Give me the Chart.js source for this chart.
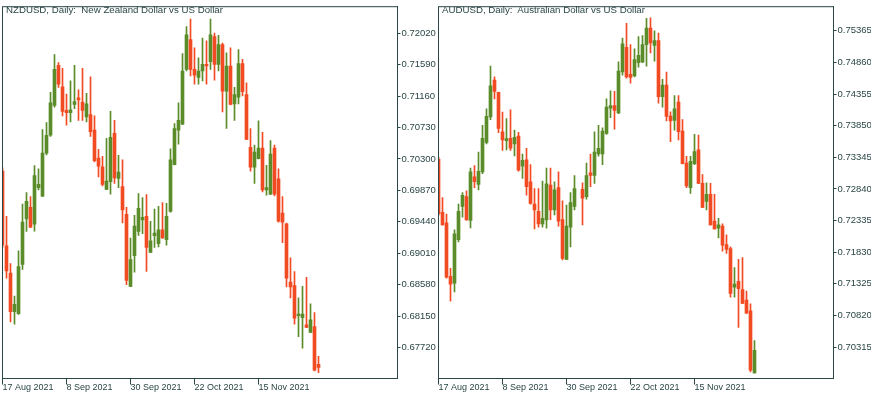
<!DOCTYPE html>
<html>
<head>
<meta charset="utf-8">
<script src="https://cdn.jsdelivr.net/npm/chart.js@4.4.0/dist/chart.umd.min.js"></script>
<style>
html, body { margin: 0; padding: 0; background: #fff; }
#wrap { position: relative; width: 871px; height: 398px; overflow: hidden; }
.panel { position: absolute; top: 0; height: 398px; overflow: hidden; }
.panel canvas { display: block; }
.title { position: absolute; left: 6px; top: 4px; font: 9.7px "Liberation Sans", Arial, sans-serif; color: #2b4646; white-space: pre; }
</style>
</head>
<body>
<div id="wrap">
  <div class="panel" style="left:0;width:436px">
    <canvas id="nz" width="436" height="398"></canvas>
    <div class="title" id="nzTitle"></div>
  </div>
  <div class="panel" style="left:436px;width:435px">
    <canvas id="au" width="435" height="398"></canvas>
    <div class="title" id="auTitle"></div>
  </div>
</div>
<script>
const nzTitle = "NZDUSD, Daily:  New Zealand Dollar vs US Dollar";
const auTitle = "AUDUSD, Daily:  Australian Dollar vs US Dollar";

// date labels, one every 16 daily bars
const xTickIdx    = [0, 16, 32, 48, 64];
const xTickLabels = ["17 Aug 2021", "8 Sep 2021", "30 Sep 2021", "22 Oct 2021", "15 Nov 2021"];

const nzTicks = [0.67720,0.68150,0.68580,0.69010,0.69440,0.69870,0.70300,0.70730,0.71160,0.71590,0.72020];
const auTicks = [0.70315,0.70820,0.71325,0.71830,0.72335,0.72840,0.73345,0.73850,0.74355,0.74860,0.75365];

// NZDUSD daily candles
const nzOpen = [0.70133,0.69112,0.68739,0.68213,0.68186,0.68860,0.69480,0.69638,0.69409,0.69908,
0.69790,0.70379,0.70626,0.71031,0.71579,0.71287,0.70963,0.70932,0.71044,0.71134,
0.71076,0.70874,0.70905,0.70694,0.70312,0.70191,0.69885,0.69988,0.70649,0.70033,
0.69921,0.69544,0.68559,0.68977,0.69310,0.69467,0.69517,0.69022,0.69251,0.69143,
0.69332,0.69197,0.69584,0.70222,0.70694,0.70774,0.71525,0.71930,0.71525,0.71413,
0.71502,0.71593,0.71629,0.71974,0.71593,0.71862,0.71225,0.71570,0.71053,0.71144,
0.71602,0.71179,0.70460,0.70187,0.70303,0.70447,0.69877,0.69817,0.70447,0.70029,
0.69561,0.69413,0.68617,0.68569,0.68159,0.68132,0.68034,0.67930,0.68007,0.67494];
const nzHigh = [0.70177,0.69517,0.68870,0.68425,0.69045,0.69682,0.69840,0.69786,0.70208,0.70164,
0.70703,0.70797,0.71211,0.71727,0.71616,0.71539,0.71188,0.71368,0.71579,0.71246,
0.71539,0.71198,0.71421,0.70888,0.70433,0.70335,0.70582,0.70950,0.70828,0.70348,
0.70289,0.69638,0.69220,0.69530,0.69827,0.69773,0.69813,0.69449,0.69615,0.69651,
0.69705,0.69692,0.70437,0.70784,0.71067,0.71741,0.72109,0.72213,0.71818,0.71683,
0.71953,0.71916,0.72213,0.72020,0.71988,0.71885,0.71750,0.71818,0.71279,0.71795,
0.71660,0.71341,0.70716,0.70491,0.70820,0.70663,0.70214,0.70551,0.70491,0.70164,
0.69786,0.69422,0.68950,0.68762,0.68402,0.68559,0.68681,0.68321,0.68199,0.67602];
const nzLow = [0.69085,0.68671,0.68074,0.68043,0.68175,0.68789,0.69310,0.69360,0.69314,0.69877,
0.69786,0.70356,0.70609,0.71009,0.71279,0.70888,0.70761,0.70807,0.70986,0.70828,
0.70828,0.70807,0.70609,0.70258,0.70056,0.69930,0.69880,0.69817,0.69966,0.69908,
0.69426,0.68582,0.68555,0.68752,0.69256,0.69278,0.68762,0.69018,0.69089,0.69099,
0.69215,0.69122,0.69571,0.70218,0.70501,0.70770,0.71502,0.71435,0.71323,0.71323,
0.71368,0.71323,0.71525,0.71377,0.71502,0.70942,0.70716,0.71040,0.70828,0.71053,
0.71161,0.70565,0.70133,0.69966,0.70299,0.69850,0.69804,0.69812,0.69796,0.69436,
0.69157,0.68550,0.68402,0.68043,0.67872,0.67714,0.67993,0.67926,0.67404,0.67377];
const nzClose = [0.69122,0.68771,0.68213,0.68313,0.68829,0.69436,0.69719,0.69368,0.70073,0.69952,
0.70379,0.70622,0.71067,0.71525,0.71323,0.70950,0.70932,0.70973,0.71084,0.71107,
0.70963,0.71053,0.70672,0.70276,0.70200,0.69952,0.69998,0.70595,0.70042,0.70119,
0.69602,0.68640,0.68923,0.69382,0.69624,0.69503,0.69089,0.69180,0.69287,0.69332,
0.69220,0.69517,0.70289,0.70716,0.70828,0.71502,0.71997,0.71525,0.71444,0.71502,
0.71593,0.71570,0.71997,0.71593,0.71862,0.71225,0.71570,0.71044,0.71179,0.71602,
0.71219,0.70568,0.70187,0.70393,0.70447,0.69877,0.69908,0.70366,0.69817,0.69449,
0.69436,0.68671,0.68550,0.68124,0.68178,0.68178,0.67997,0.68101,0.67413,0.67450];

// AUDUSD daily candles
const auOpen = [0.73318,0.72467,0.72299,0.71444,0.71338,0.72031,0.72562,0.72719,0.72337,0.73034,
0.72913,0.73113,0.73585,0.73990,0.74578,0.74384,0.73754,0.73612,0.73648,0.73559,
0.73685,0.73203,0.73307,0.72956,0.72598,0.72483,0.72283,0.72346,0.72904,0.72504,
0.72861,0.72352,0.71716,0.72231,0.72562,null,0.72834,0.72719,0.73097,0.73055,
0.73401,0.73401,0.73727,0.74132,0.74173,0.74053,0.74708,0.75102,0.74672,0.74645,
0.74856,0.74866,0.75145,0.75408,0.75134,0.75208,0.74315,0.74499,0.74006,0.73937,
0.74226,0.73763,0.73255,0.72861,0.73244,0.73464,0.72929,0.72641,0.72756,0.72326,
0.72215,0.72247,0.71952,0.71889,0.71271,0.71365,0.71234,0.71066,0.70893,0.69905];
const auHigh = [0.73349,0.72704,0.72441,0.71574,0.72189,0.72598,0.72782,0.72809,0.73176,0.73212,
0.73428,0.73858,0.74121,0.74803,0.74630,0.74389,0.74069,0.73963,0.74105,0.73779,
0.73743,0.73397,0.73491,0.73228,0.72845,0.72845,0.72967,0.73176,0.73176,0.72956,
0.73113,0.72652,0.72582,0.72782,0.73055,null,0.72940,0.73255,0.73397,0.73754,
0.73858,0.73817,0.74278,0.74409,0.74400,0.74872,0.75250,0.75486,0.75145,0.75077,
0.75275,0.75291,0.75565,0.75574,0.75365,0.75329,0.74593,0.74708,0.74074,0.74330,
0.74330,0.73948,0.73360,0.73360,0.73711,0.73700,0.73071,0.72940,0.72929,0.72756,
0.72373,0.72283,0.72110,0.71916,0.71585,0.71716,0.71743,0.71208,0.71008,0.70420];
const auLow = [0.72420,0.72263,0.71417,0.71050,0.71197,0.71995,0.72389,0.72341,0.72220,0.72861,
0.72825,0.73086,0.73559,0.73948,0.74278,0.73738,0.73455,0.73464,0.73455,0.73370,
0.73124,0.73008,0.72740,0.72598,0.72204,0.72231,0.72231,0.72215,0.72352,0.72425,
0.72247,0.71707,0.71712,0.71916,0.72504,null,0.72267,0.72677,0.72877,0.72929,
0.73365,0.73228,0.73711,0.73979,0.73795,0.74042,0.74656,0.74609,0.74530,0.74630,
0.74787,0.74862,0.74803,0.75014,0.74882,0.74211,0.74148,0.73927,0.73597,0.73779,
0.73622,0.73239,0.72861,0.72771,0.73228,0.72925,0.72540,0.72504,0.72263,0.72200,
0.72058,0.71848,0.71811,0.71113,0.71113,0.70630,0.71010,0.70852,0.69921,0.69901];
const auClose = [0.72441,0.72267,0.71433,0.71322,0.72126,0.72483,0.72740,0.72346,0.73113,0.72956,
0.73124,0.73648,0.74000,0.74488,0.74400,0.73806,0.73622,0.73644,0.73491,0.73664,
0.73140,0.73297,0.72877,0.72609,0.72504,0.72283,0.72373,0.72924,0.72504,0.72825,
0.72326,0.71732,0.72247,0.72625,0.72845,null,0.72693,0.73055,0.73055,0.73428,
0.73491,0.73763,0.74148,0.74173,0.74094,0.74724,0.75160,0.74630,0.74620,0.74908,
0.74976,0.75145,0.75408,0.75171,0.75208,0.74315,0.74499,0.74000,0.73927,0.74121,
0.73754,0.73244,0.72888,0.73282,0.73439,0.72929,0.72546,0.72756,0.72267,0.72204,
0.72267,0.71943,0.71874,0.71171,0.71322,0.71250,0.71014,0.70856,0.69948,0.70263];

const UP = "#5b8c2a", DOWN = "#f24b23", FRAME = "#2b4646";

Chart.defaults.font.family = '"Liberation Sans", Arial, sans-serif';
Chart.defaults.color = FRAME;

// outline the plot like the terminal does
const framePlugin = {
  id: "frame",
  afterDraw(chart) {
    const a = chart.chartArea, ctx = chart.ctx;
    ctx.save();
    ctx.strokeStyle = FRAME;
    ctx.lineWidth = 1;
    ctx.strokeRect(a.left, a.top, a.right - a.left, a.bottom - a.top);
    ctx.restore();
  }
};

function candleChart(id, o, h, l, c, yTicks, yMin, yMax, axisW) {
  const wicks = [], bodies = [];
  o.forEach((v, i) => {
    if (v == null) return;
    const up = c[i] >= v;
    wicks.push({ x: i, y: [l[i], h[i]], up });
    bodies.push({ x: i, y: [v, c[i]], up });
  });
  const col = ctx => (ctx.raw && ctx.raw.up) ? UP : DOWN;

  return new Chart(document.getElementById(id), {
    type: "bar",
    data: { datasets: [
      { data: wicks,  backgroundColor: col, barThickness: 1, grouped: false, borderWidth: 0 },
      { data: bodies, backgroundColor: col, barThickness: 3, grouped: false, borderWidth: 0, minBarLength: 1 }
    ]},
    options: {
      responsive: false,
      animation: false,
      layout: { autoPadding: false, padding: { left: 2.5, top: 1.5, right: 0, bottom: 0 } },
      plugins: { legend: { display: false }, tooltip: { enabled: false } },
      scales: {
        x: {
          type: "linear", min: 0, max: 98.75, offset: false,
          afterFit: s => { s.height = 19.5; },
          afterBuildTicks: s => { s.ticks = xTickIdx.map(v => ({ value: v })); },
          grid: { drawOnChartArea: false, tickLength: 6, color: FRAME, offset: false },
          border: { color: FRAME },
          ticks: { align: "start", maxRotation: 0, autoSkip: false, padding: -2,
                   font: { size: 9 },
                   callback: v => xTickLabels[xTickIdx.indexOf(v)] }
        },
        y: {
          position: "right", min: yMin, max: yMax,
          afterFit: s => { s.width = axisW; },
          afterBuildTicks: s => { s.ticks = yTicks.map(v => ({ value: v })); },
          grid: { drawOnChartArea: false, tickLength: 3, color: FRAME },
          border: { color: FRAME },
          ticks: { padding: 1, autoSkip: false, font: { size: 9.5 }, callback: v => v.toFixed(5) }
        }
      }
    },
    plugins: [framePlugin]
  });
}

document.getElementById("nzTitle").textContent = nzTitle;
document.getElementById("auTitle").textContent = auTitle;

candleChart("nz", nzOpen, nzHigh, nzLow, nzClose, nzTicks, 0.67299, 0.72381, 38.5);
candleChart("au", auOpen, auHigh, auLow, auClose, auTicks, 0.69814, 0.75751, 37.5);
</script>
</body>
</html>
